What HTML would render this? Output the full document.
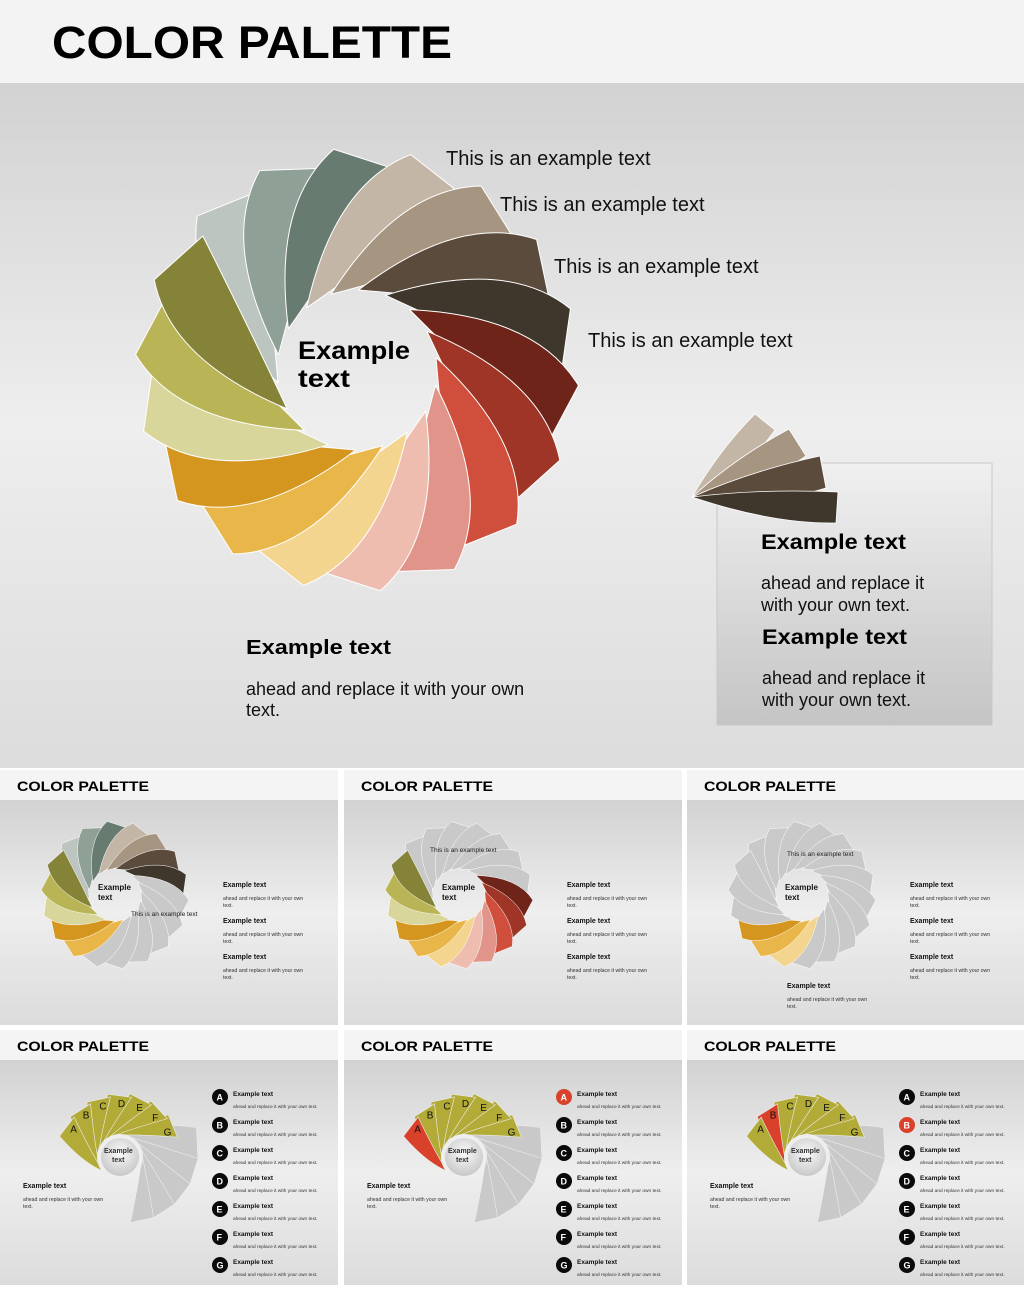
<!DOCTYPE html>
<html><head><meta charset="utf-8"><style>
html,body{margin:0;padding:0;background:#fff}
svg{display:block;font-family:"Liberation Sans",Arial,sans-serif}
</style></head><body>
<svg id="s" width="1024" height="1291" viewBox="0 0 1024 1291" xmlns="http://www.w3.org/2000/svg">
<defs>
<linearGradient id="bg" x1="0" y1="0" x2="0" y2="1">
<stop offset="0" stop-color="#d2d2d2"/><stop offset="0.5" stop-color="#eeeeee"/><stop offset="1" stop-color="#dcdcdc"/></linearGradient>
<linearGradient id="box" x1="0" y1="0" x2="0" y2="1">
<stop offset="0" stop-color="#f0f0f0"/><stop offset="1" stop-color="#c4c4c4"/></linearGradient>
<radialGradient id="hub" cx="0.5" cy="0.4" r="0.6"><stop offset="0" stop-color="#fafafa"/><stop offset="1" stop-color="#c8c8c8"/></radialGradient>
</defs>
<rect x="0" y="0" width="1024" height="83" fill="#f3f3f3"/>
<text x="52" y="58" font-size="45" font-weight="bold" textLength="400" lengthAdjust="spacingAndGlyphs">COLOR PALETTE</text>
<rect x="0" y="83" width="1024" height="685" fill="url(#bg)"/>
<g id="main"></g>
<g font-size="20" fill="#111">
<text x="446" y="165">This is an example text</text>
<text x="500" y="211">This is an example text</text>
<text x="554" y="273">This is an example text</text>
<text x="588" y="347">This is an example text</text>
</g>
<text font-size="25" font-weight="bold" fill="#000"><tspan x="298" y="359" textLength="112" lengthAdjust="spacingAndGlyphs">Example</tspan><tspan x="298" y="387" textLength="52" lengthAdjust="spacingAndGlyphs">text</tspan></text>
<text x="246" y="654" font-size="20" font-weight="bold" textLength="145" lengthAdjust="spacingAndGlyphs">Example text</text>
<text font-size="18" fill="#111"><tspan x="246" y="695">ahead and replace it with your own</tspan><tspan x="246" y="716">text.</tspan></text>
<rect x="717" y="463" width="275" height="262" fill="url(#box)" stroke="#c8c8c8"/>
<g id="fan"></g>
<text x="761" y="549" font-size="21" font-weight="bold" textLength="145" lengthAdjust="spacingAndGlyphs">Example text</text>
<text font-size="18" fill="#111"><tspan x="761" y="589">ahead and replace it</tspan><tspan x="761" y="611">with your own text.</tspan></text>
<text x="762" y="644" font-size="21" font-weight="bold" textLength="145" lengthAdjust="spacingAndGlyphs">Example text</text>
<text font-size="18" fill="#111"><tspan x="762" y="684">ahead and replace it</tspan><tspan x="762" y="706">with your own text.</tspan></text>
<g id="thumbs"></g>
</svg>
<script>
const colors=["#bcc5bf","#8fa096","#677b70","#c3b6a6","#a69681","#5a4b3d","#3f362c","#6e2418","#9e3526","#cf4f3c","#e1958a","#efbcb0","#f3d590","#e9b64a","#d4961f","#d8d69b","#b9b455","#848338"];
const startAngle=-127, stepAngle=20;
const thumbMasks=[[0,1,2,3,4,5,6,13,14,15,16,17],[7,8,9,10,11,12,13,14,15,16,17],[12,13,14]];
const fanLetters=["A","B","C","D","E","F","G"];
const NS="http://www.w3.org/2000/svg";
function el(t,a,p){const e=document.createElementNS(NS,t);for(const k in a)e.setAttribute(k,a[k]);p.appendChild(e);return e;}
function pt(cx,cy,r,d){const a=d*Math.PI/180;return [cx+r*Math.cos(a),cy+r*Math.sin(a)];}
function blade(p,cx,cy,rin,rout,th,fill,sw){
  const T=pt(cx,cy,rin,th-62),A=pt(cx,cy,rout,th-9),B=pt(cx,cy,rout*0.92,th+8);
  const C1=pt(cx,cy,(rin+rout)*0.62,th-30),C2=pt(cx,cy,rin*1.3,th-18);
  return el("path",{d:`M${T}Q${C1} ${A}L${B}Q${C2} ${T}Z`,fill:fill,stroke:"#fff","stroke-width":sw,"stroke-linejoin":"round"},p);
}
function spiral(p,cx,cy,rin,rout,mask,sw){
  colors.forEach((c,k)=>{
    const fill=(mask&&mask.indexOf(k)<0)?"#c9c9c9":c;
    const b=blade(p,cx,cy,rin,rout,startAngle+stepAngle*k,fill,sw);
    
    
  });
}
spiral(document.getElementById("main"),357,370,80,222,null,1);
// small fan
const fan=document.getElementById("fan");
[["#c3b6a6",[755,414],[775,430]],["#a69681",[789,429],[806,456]],["#5a4b3d",[820,456],[826,488]],["#3f362c",[838,492],[836,523]]].forEach(f=>{
  const T=[692,497];
  const c1=[(T[0]+f[1][0])/2-4,(T[1]+f[1][1])/2-6];
  const c2=[(T[0]+f[2][0])/2+8,(T[1]+f[2][1])/2+14];
  const e=el("path",{d:`M${T}Q${c1} ${f[1]}L${f[2]}Q${c2} ${T}Z`,fill:f[0],stroke:"#fff","stroke-width":0.8},fan);
  
  
});
// thumbnails
const th=document.getElementById("thumbs");
const cols=[0,344,687],rows=[770,1030];
function txt(p,x,y,s,size,bold,fill){const t=el("text",{x:x,y:y,"font-size":size,fill:fill||"#111"},p);if(bold)t.setAttribute("font-weight","bold");t.textContent=s;return t;}
for(let r=0;r<2;r++)for(let c=0;c<3;c++){
  const x0=cols[c],y0=rows[r],w=(c==2?337:338);
  const g=el("g",{},th);
  
  
  el("rect",{x:x0,y:y0,width:w,height:30,fill:"#f4f4f4"},g);
  const t=txt(g,x0+17,y0+21,"COLOR PALETTE",14,true,"#000");t.setAttribute("textLength","132");t.setAttribute("lengthAdjust","spacingAndGlyphs");
  el("rect",{x:x0,y:y0+30,width:w,height:225,fill:"url(#bg)"},g);
  if(r==0){
    const cx=x0+115,cy=y0+125;
    spiral(g,cx,cy,26,74,thumbMasks[c],0.5);
    txt(g,x0+98,y0+120,"Example",8,true);txt(g,x0+98,y0+130,"text",8,true);
    const lx=[131,430,787][c]-x0, ly=[916,852,856][c]-y0;
    txt(g,x0+lx,y0+ly,"This is an example text",6.5,false,"#222");
    for(let i=0;i<3;i++){const yy=y0+117+36*i;txt(g,x0+223,yy,"Example text",7,true);txt(g,x0+223,yy+13,"ahead and replace it with your own",5.2,false,"#333");txt(g,x0+223,yy+20,"text.",5.2,false,"#333");}
    if(c==2){txt(g,x0+100,y0+218,"Example text",7,true);txt(g,x0+100,y0+231,"ahead and replace it with your own",5.2,false,"#333");txt(g,x0+100,y0+238,"text.",5.2,false,"#333");}
  }else{
    const cx=x0+120,cy=y0+127;
    for(let k=11;k>=0;k--){
      const ang=-150+20*k, fill=k<7?(k==c-1?"#d9412b":"#b3ab38"):"#c9c9c9";
      const ro=k<7?64:82-3*(k-7);
      const T=pt(cx,cy,22,ang-70),A=pt(cx,cy,ro,ang-11),B=pt(cx,cy,ro*0.95,ang+11),C1=pt(cx,cy,ro*0.6,ang-38),C2=pt(cx,cy,28,ang-25);
      const b=el("path",{d:`M${T}Q${C1} ${A}L${B}Q${C2} ${T}Z`,fill:fill,stroke:"#eee","stroke-width":0.6},g);
      
      
      if(k<7){const L=pt(cx,cy,ro-10,ang+2);txt(g,L[0]-4,L[1]+4,fanLetters[k],10,false,"#111");}
    }
    el("circle",{cx:cx,cy:cy,r:23,fill:"#eee"},g);
    el("circle",{cx:cx,cy:cy,r:19,fill:"url(#hub)"},g);
    txt(g,cx-16,cy-4,"Example",7,true,"#333");txt(g,cx-8,cy+5,"text",7,true,"#333");
    txt(g,x0+23,y0+158,"Example text",7,true);txt(g,x0+23,y0+171,"ahead and replace it with your own",5.2,false,"#333");txt(g,x0+23,y0+178,"text.",5.2,false,"#333");
    fanLetters.forEach((L,i)=>{
      const yy=y0+67+28*i;
      const circ=el("circle",{cx:x0+220,cy:yy,r:8,fill:(c>0&&i==c-1)?"#d9412b":"#0a0a0a"},g);
      
      
      txt(g,x0+216.5,yy+3.5,L,9,true,"#fff");
      txt(g,x0+233,yy-1,"Example text",6.5,true);
      txt(g,x0+233,yy+11,"ahead and replace it with your own text.",4.8,false,"#333");
    });
  }
}
</script>
</body></html>
